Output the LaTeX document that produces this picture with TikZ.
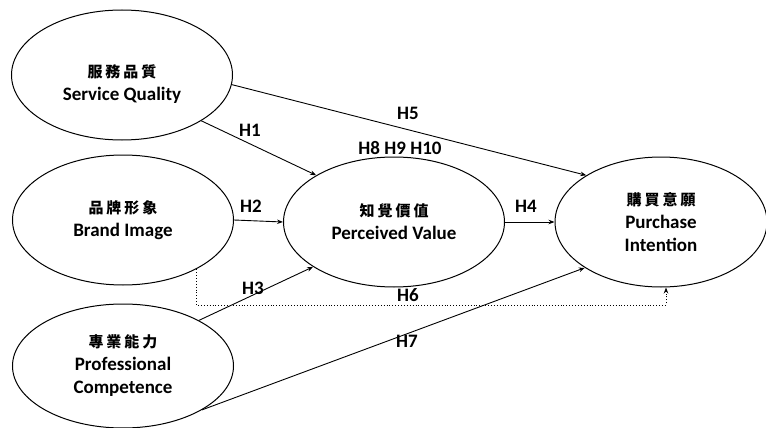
\documentclass[tikz,border=0pt]{standalone}
\usepackage{fontspec}
\setmainfont{Carlito}
\newfontfamily\cjk[LetterSpace=20]{Noto Sans CJK TC}
\usetikzlibrary{shapes.geometric,arrows.meta}

\begin{document}
\begin{tikzpicture}[x=1pt,y=-1pt,
   construct/.style={ellipse,draw,line width=1pt,minimum width=221pt,minimum height=130pt,inner sep=0pt,align=center,font=\fontsize{19}{23}\selectfont\bfseries},
   path/.style={line width=0.9pt,-{Stealth[length=6pt,width=4.5pt]}},
   hyp/.style={font=\fontsize{19}{22}\selectfont\bfseries,inner sep=1pt}]
\useasboundingbox (0,0) rectangle (766,428);
% constructs
\node[construct] (sq) at (122,75) {\rule{0pt}{30pt}{\cjk\fontsize{15}{18}\selectfont 服務品質}\\Service Quality};
\node[construct] (bi) at (123,220) {{\cjk\fontsize{15}{18}\selectfont 品牌形象}\\Brand Image};
\node[construct,minimum height=124pt] (pc) at (123,366) {{\cjk\fontsize{15}{18}\selectfont 專業能力}\\Professional\\Competence};
\node[construct] (pv) at (394,222) {{\cjk\fontsize{15}{18}\selectfont 知覺價值}\\Perceived Value};
\node[construct,minimum width=212pt] (pi) at (661,222) {{\cjk\fontsize{15}{18}\selectfont 購買意願}\\Purchase\\Intention};
% paths
\draw[path] (sq.-5) -- (pi.148);
\draw[path] (sq.-30) -- (pv.149);
\draw[path] (bi.east) -- (pv.west);
\draw[path] (pc.31) -- (pv.209);
\draw[path] (pv.east) -- (pi.west);
\draw[path] (pc.-29) -- (pi.211);
\coordinate (h6low) at (0,305);
\draw[path,dotted] (bi.-34) -- (bi.-34 |- h6low) -| ([xshift=5pt]pi.south);
% hypotheses
\foreach \n/\x/\y/\t in {h1/250/130/H1,h2/251/206/H2,h3/253/288/H3,h4/526/206/H4,
   h5/408/113/H5,h6/408/295/H6,h7/407/341/H7,h8/400/148/H8 H9 H10} {
   \node[hyp] (\n) at (\x,\y) {\t};
}
\end{tikzpicture}
\end{document}
